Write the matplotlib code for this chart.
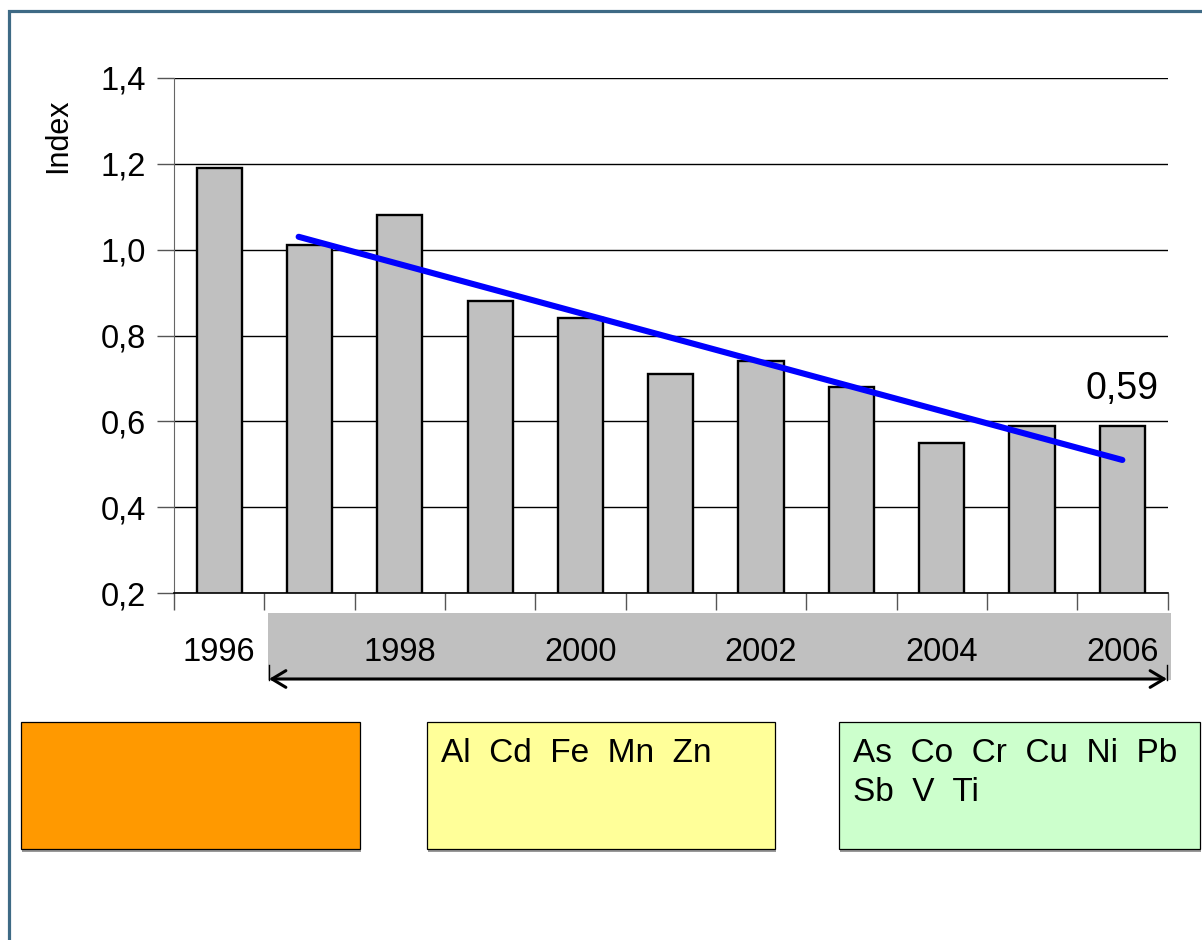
import numpy as np
import matplotlib
matplotlib.use("Agg")
import matplotlib.pyplot as plt
from matplotlib.patches import Rectangle, FancyArrowPatch
from matplotlib.lines import Line2D

# --- data -------------------------------------------------------------
years = [1996, 1997, 1998, 1999, 2000, 2001, 2002, 2003, 2004, 2005, 2006]
index_values = [1.19, 1.01, 1.08, 0.88, 0.84, 0.71, 0.74, 0.68, 0.55, 0.59, 0.59]
label_years = [1996, 1998, 2000, 2002, 2004, 2006]
y_ticks = [0.2, 0.4, 0.6, 0.8, 1.0, 1.2, 1.4]
trend_pos = [0.88, 10.0]          # category positions of the trend-line ends
trend_values = [1.03, 0.51]
group_lines = [[], ["Al  Cd  Fe  Mn  Zn"], ["As  Co  Cr  Cu  Ni  Pb", "Sb  V  Ti"]]
group_colors = ["#FF9900", "#FFFF99", "#CCFFCC"]

plt.rcParams["font.family"] = ["Liberation Sans", "DejaVu Sans"]

W, H = 1202, 940
fig = plt.figure(figsize=(W / 100, H / 100), dpi=100)


def fx(x):
    return x / W


def fy(y):
    return 1 - y / H


# outer frame (open to the right and bottom edges)
fig.add_artist(Rectangle((fx(9), fy(990)), fx(1260), fy(11) - fy(990),
                         transform=fig.transFigure, fill=False,
                         edgecolor="#3E6A85", lw=2.3, zorder=5))

# --- main bar chart ---------------------------------------------------
ax = fig.add_axes([fx(174), fy(593), fx(1167.5) - fx(174), fy(78) - fy(593)])
pos = np.arange(len(years))
ax.bar(pos, index_values, width=0.5, color="#C0C0C0", edgecolor="black",
       linewidth=1.7, zorder=2)
ax.plot(trend_pos, trend_values, color="#0000FF", lw=4.4,
        solid_capstyle="round", zorder=3)
last = index_values[-1]
ax.annotate(f"{last:.2f}".replace(".", ","), xy=(pos[-1], last), xytext=(0, 19),
            textcoords="offset points", ha="center", va="baseline",
            fontsize=27)

ax.set_xlim(-0.5, len(years) - 0.5)
ax.set_ylim(y_ticks[0], y_ticks[-1])
ax.set_yticks(y_ticks)
ax.set_yticklabels([f"{v:.1f}".replace(".", ",") for v in y_ticks], fontsize=23.5)
ax.yaxis.grid(True, color="black", lw=1.0, zorder=0)
ax.set_axisbelow(True)

# tick marks on category boundaries, labels at bar centres
ax.set_xticks(np.arange(-0.5, len(years), 1.0))
ax.set_xticklabels([])
ax.set_xticks([years.index(y) for y in label_years], minor=True)
ax.set_xticklabels([str(y) for y in label_years], minor=True, fontsize=23.5)
ax.tick_params(axis="x", which="major", length=12, width=1, direction="out",
               color="#555555")
ax.tick_params(axis="x", which="minor", length=0, pad=32)
ax.tick_params(axis="y", length=12, width=1, direction="out", pad=8,
               color="#555555")

for s in ("top", "right"):
    ax.spines[s].set_visible(False)
ax.spines["left"].set_color("#666666")
ax.spines["bottom"].set_color("black")
ax.spines["bottom"].set_linewidth(1.2)

fig.text(fx(58), fy(136), "Index", rotation=90, ha="center", va="center",
         fontsize=22)

# period band with a double arrow beneath the year labels
fig.add_artist(Rectangle((fx(268), fy(680)), fx(1171) - fx(268), fy(613) - fy(680),
                         transform=fig.transFigure, facecolor="#C0C0C0",
                         edgecolor="none", zorder=-1))
fig.add_artist(FancyArrowPatch((fx(269), fy(679)), (fx(1167), fy(679)),
                               transform=fig.transFigure,
                               arrowstyle="<->,head_length=10,head_width=6",
                               color="black", lw=2.2, shrinkA=0, shrinkB=0,
                               zorder=6))
for xe in (269, 1167):
    fig.add_artist(Line2D([fx(xe), fx(xe)], [fy(665), fy(680)],
                          transform=fig.transFigure, color="black", lw=1,
                          zorder=6))

# element-group boxes
boxes = [(21, 360), (427, 775), (839, 1200)]
for (x0, x1), col, lines in zip(boxes, group_colors, group_lines):
    fig.add_artist(Rectangle((fx(x0 + 1), fy(852)), fx(x1 - x0), fy(722) - fy(850),
                             transform=fig.transFigure, facecolor="#999999",
                             edgecolor="none", zorder=6))
    fig.add_artist(Rectangle((fx(x0), fy(849)), fx(x1 - x0), fy(722) - fy(849),
                             transform=fig.transFigure, facecolor=col,
                             edgecolor="black", lw=0.9, zorder=7))
    for i, line in enumerate(lines):
        fig.text(fx(x0 + 14), fy(762 + 39 * i), line, ha="left", va="baseline",
                 fontsize=24, zorder=8)

fig.savefig("out.png", dpi=100, facecolor="white")
